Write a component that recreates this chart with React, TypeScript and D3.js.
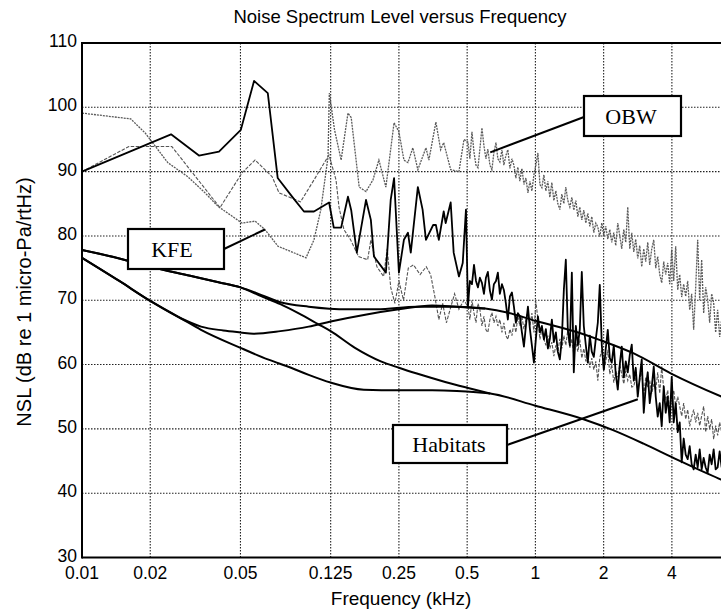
import React from "react";
import * as d3 from "d3";

const xTicks = [0.01, 0.02, 0.05, 0.125, 0.25, 0.5, 1, 2, 4];
const xTickLabels = ["0.01", "0.02", "0.05", "0.125", "0.25", "0.5", "1", "2", "4"];
const yTicks = [30, 40, 50, 60, 70, 80, 90, 100, 110];

// thick black measured spectrum, low-frequency part [kHz, dB]
const blackLow: [number, number][] = [
  [0.01, 90], [0.0247, 95.8], [0.0328, 92.5], [0.0402, 93.1], [0.0502, 96.5], [0.0574, 104.1],
  [0.066, 102.2], [0.073, 89], [0.085, 86], [0.0953, 83.8], [0.1055, 83.8], [0.123, 85.2],
  [0.129, 81.3], [0.139, 81.3], [0.149, 86.1], [0.154, 84], [0.163, 77.4], [0.179, 85.6],
  [0.188, 82.5], [0.194, 76.8], [0.219, 74.3], [0.23, 85.6], [0.238, 89], [0.25, 74.3],
  [0.263, 79.4], [0.274, 80.5], [0.282, 77.4], [0.303, 87.6], [0.318, 84.1], [0.329, 79.4],
  [0.354, 81.7], [0.364, 81.7], [0.375, 79.4], [0.394, 83.8], [0.402, 82], [0.423, 85.2],
  [0.436, 77.4], [0.46, 73.7], [0.478, 75.8], [0.494, 84.1],
];

// OBW spectrum (light dotted), low-frequency part
const obwLow: [number, number][] = [
  [0.01, 99.1], [0.0164, 98.2], [0.019, 96], [0.0239, 91.4], [0.0293, 89.2], [0.0349, 86.7],
  [0.0398, 84.6], [0.0508, 82], [0.058, 82.3], [0.0641, 81], [0.0732, 78.4], [0.0973, 76.6],
  [0.1055, 79.4], [0.113, 84], [0.1217, 92.3], [0.1233, 102.2], [0.13, 96.5], [0.139, 91.8],
  [0.149, 99.1], [0.154, 98.4], [0.167, 87.6], [0.179, 86.9], [0.192, 88.7], [0.204, 91.8],
  [0.219, 87.6], [0.238, 97.6], [0.25, 96.2], [0.263, 91.8], [0.274, 91.4], [0.288, 93.7],
  [0.303, 90.3], [0.329, 93.7], [0.339, 91.8], [0.364, 97.7], [0.382, 93.4], [0.394, 94.5],
  [0.423, 90.3], [0.46, 90], [0.484, 95],
];

// dashed spectrum, low-frequency part
const dashLow: [number, number][] = [
  [0.01, 90], [0.0161, 93.9], [0.0249, 93.9], [0.0406, 84.4], [0.0508, 89.8], [0.058, 91.8],
  [0.069, 89.2], [0.074, 86.7], [0.092, 85.3], [0.1055, 88.7], [0.1229, 92.6], [0.132, 88.7],
  [0.136, 84.5], [0.143, 81], [0.153, 79.4], [0.166, 76.8], [0.182, 76.3], [0.188, 79.4],
  [0.2, 75.2], [0.214, 73.7], [0.222, 78], [0.23, 72], [0.24, 69.5], [0.25, 73], [0.262, 70],
  [0.275, 75], [0.29, 75.5], [0.31, 74], [0.33, 75.2], [0.345, 74], [0.36, 70.6], [0.375, 67],
  [0.39, 69.5], [0.405, 66.5], [0.42, 68.5], [0.44, 71], [0.46, 68.6], [0.484, 70],
];

// high-frequency bins (kHz) shared by the three spectra
const hfFreq = [
  0.504, 0.514, 0.525, 0.536, 0.547, 0.558, 0.569, 0.581, 0.593, 0.605,
  0.617, 0.63, 0.643, 0.656, 0.67, 0.683, 0.697, 0.712, 0.726, 0.741,
  0.756, 0.772, 0.788, 0.804, 0.82, 0.837, 0.854, 0.872, 0.89, 0.908,
  0.927, 0.946, 0.965, 0.985, 1.005, 1.026, 1.047, 1.068, 1.09, 1.112,
  1.135, 1.158, 1.182, 1.206, 1.231, 1.256, 1.282, 1.308, 1.335, 1.362,
  1.39, 1.419, 1.448, 1.477, 1.508, 1.539, 1.57, 1.602, 1.635, 1.669,
  1.703, 1.738, 1.773, 1.81, 1.847, 1.885, 1.923, 1.963, 2.003, 2.044,
  2.086, 2.129, 2.172, 2.217, 2.262, 2.309, 2.356, 2.404, 2.454, 2.504,
  2.555, 2.608, 2.661, 2.716, 2.771, 2.828, 2.886, 2.945, 3.006, 3.067,
  3.13, 3.194, 3.26, 3.327, 3.395, 3.464, 3.535, 3.608, 3.682, 3.757,
  3.834, 3.913, 3.993, 4.075, 4.158, 4.244, 4.331, 4.419, 4.51, 4.602,
  4.697, 4.793, 4.891, 4.991, 5.094, 5.198, 5.305, 5.413, 5.524, 5.638,
  5.753, 5.871, 5.991, 6.114, 6.239, 6.367, 6.498, 6.631,
];

const blackHF = [
  69.0, 73.0, 72.5, 75.5, 73.0, 72.0, 73.5, 72.7, 71.0, 73.5,
  74.4, 71.5, 70.1, 72.5, 73.0, 74.3, 71.0, 72.5, 71.6, 69.5,
  67.0, 70.6, 71.2, 69.0, 66.5, 68.0, 67.5, 65.0, 62.8, 66.0,
  69.0, 65.5, 63.0, 60.3, 64.0, 67.5, 65.0, 66.0, 63.9, 65.5,
  62.5, 64.0, 67.0, 63.5, 65.0, 62.0, 60.8, 64.0, 71.6, 76.3,
  65.4, 63.0, 74.3, 58.8, 66.0, 63.0, 65.5, 74.4,
  66.0, 63.0, 60.3, 64.5, 62.0, 61.2, 64.0, 66.5, 72.4, 63.0,
  59.2, 62.5, 65.4, 61.0, 60.3, 63.0, 58.5, 56.1, 60.0, 62.8,
  58.0, 60.5, 58.8, 61.5, 63.1, 57.5, 59.5, 55.0, 58.0, 60.8,
  52.5, 56.5, 58.8, 54.0, 56.5, 59.7, 55.0, 51.9, 54.0, 50.4,
  56.6, 52.5, 55.0, 51.0, 58.1, 51.0, 54.0, 49.5, 51.0, 44.8,
  48.5, 46.0, 45.3, 47.3, 44.5, 43.7, 46.0, 44.0, 46.8, 43.7,
  45.5, 44.0, 43.2, 46.0, 44.5, 46.8, 43.7, 44.0, 46.5, 44.0,
];

const obwHF = [
  94.6, 92.0, 96.2, 93.0, 91.0, 90.6, 93.5, 96.8, 94.0, 92.0,
  93.5, 91.0, 90.3, 93.0, 94.5, 92.0, 91.5, 93.4, 91.0, 92.5,
  93.4, 90.5, 92.0, 91.0, 89.0, 90.7, 88.5, 90.5, 88.0, 89.0,
  86.7, 88.5, 87.0, 89.5, 91.0, 92.9, 88.0, 87.5, 89.5, 87.0,
  88.5, 86.0, 88.3, 85.5, 87.0, 85.0, 84.1, 86.5, 85.0, 87.6,
  85.5, 84.5, 86.0, 84.0, 85.5, 83.0, 84.5, 82.5, 84.0, 82.0,
  83.5, 81.5, 83.0, 80.5, 82.0, 81.4, 79.9, 82.0, 80.0, 81.5,
  79.5, 81.0, 79.0, 80.5, 78.5, 82.0, 80.0, 78.0, 81.0, 79.0,
  84.5, 78.0, 80.5, 77.5, 79.5, 76.5, 78.5, 75.2, 78.0, 76.0,
  79.0, 75.5, 78.0, 79.4, 75.0, 76.8, 74.0, 72.7, 76.0, 74.0,
  75.8, 72.5, 77.9, 73.0, 78.4, 71.6, 74.0, 70.5, 72.5, 70.6,
  73.0, 68.5, 71.0, 65.4, 72.0, 79.4, 70.0, 76.3, 68.0, 72.0,
  70.1, 66.5, 71.0, 69.6, 65.0, 68.5, 64.3, 67.0,
];

const dashHF = [
  69.0, 67.0, 70.0, 68.0, 66.5, 69.5, 68.6, 66.0, 67.5, 65.4,
  65.0, 67.0, 68.1, 66.5, 67.5, 66.0, 67.0, 65.0, 66.5, 64.5,
  63.9, 65.5, 64.5, 66.5, 65.0, 67.5, 66.0, 67.5, 65.5, 67.0,
  68.5, 66.0, 68.0, 65.0, 69.8, 67.0, 63.9, 65.5, 64.0, 63.0,
  64.5, 62.5, 63.5, 61.3, 63.0, 62.0, 64.0, 62.5, 64.5, 63.0,
  65.4, 62.5, 64.0, 61.5, 63.5, 62.0, 63.9, 61.0, 62.5, 60.5,
  61.5, 59.5, 61.0, 59.2, 60.5, 57.5, 61.0, 62.3, 59.0, 60.5,
  62.3, 58.5, 60.0, 57.2, 59.0, 58.0, 60.0, 58.5, 57.0, 59.0,
  57.5, 58.5, 56.5, 56.6, 58.0, 56.0, 57.5, 59.2, 55.0, 58.0,
  56.5, 57.5, 55.5, 57.0, 56.0, 58.8, 55.5, 59.7, 56.1, 54.5,
  56.0, 53.0, 55.0, 56.0, 53.5, 55.0, 53.5, 52.0, 54.0, 51.5,
  53.0, 50.4, 51.9, 53.0, 51.0, 52.5, 50.5, 52.0, 53.5, 49.5,
  52.0, 50.0, 51.5, 48.4, 50.5, 49.0, 51.0, 49.5,
];

// smooth habitat curves
const habitatUpper: [number, number][] = [
  [0.01, 77.8], [0.0146, 76.5], [0.02, 75.2], [0.03, 73.8], [0.04, 72.8], [0.05, 72],
  [0.062, 70.8], [0.075, 69.7], [0.1, 69.0], [0.15, 68.6], [0.2, 68.6], [0.3, 69], [0.45, 69],
  [0.6, 68.7], [0.75, 68.1], [1, 66.8], [1.57, 64.9], [1.93, 63.8], [2.73, 61.7], [3.97, 58.6],
  [6.63, 55], [7.5, 54.2],
];
const habitatDip: [number, number][] = [
  [0.01, 76.6], [0.0146, 73], [0.02, 69.9], [0.0273, 67.2], [0.0335, 65.9], [0.042, 65.3],
  [0.05, 65], [0.057, 64.8], [0.075, 65.2], [0.1, 65.9], [0.125, 66.7], [0.18, 67.8],
  [0.25, 68.6], [0.35, 69.2], [0.45, 69], [0.6, 68.7],
];
const habitatPlateau: [number, number][] = [
  [0.01, 76.6], [0.0146, 73], [0.02, 69.9], [0.0273, 67.2], [0.0335, 65.4], [0.05, 62.6],
  [0.066, 60.8], [0.0836, 59.5], [0.1, 58.4], [0.125, 57.2], [0.175, 56.1], [0.25, 56],
  [0.35, 56], [0.45, 55.9], [0.55, 55.7], [0.632, 55.5], [1, 53.6], [1.63, 51.5], [2.2, 49.8],
  [3, 47.7], [4, 45.6], [5, 44], [6.6, 42.1], [7.5, 41.2],
];
const habitatSlope: [number, number][] = [
  [0.01, 77.8], [0.0146, 76.5], [0.02, 75.2], [0.03, 73.8], [0.04, 72.8], [0.05, 72],
  [0.062, 70.6], [0.075, 69.4], [0.09, 68], [0.11, 66.3], [0.125, 65.2], [0.16, 62.6],
  [0.208, 60.5], [0.25, 59.5], [0.3, 58.6], [0.4, 57.3], [0.5, 56.4], [0.632, 55.5],
];

// callout labels and the point (kHz, dB) each one points at
const callouts = [
  { label: "KFE", target: [0.0641, 81] as [number, number] },
  { label: "OBW", target: [0.632, 93] as [number, number] },
  { label: "Habitats", target: [2.83, 54.6] as [number, number] },
];

const W = 721;
const H = 612;
const LEFT = 82;
const TOP = 43;
const BOTTOM = 557.5;

export default function App() {
  const x = d3.scaleLog().domain([0.01, 10]).range([LEFT, LEFT + 3 * 226.7]);
  const y = d3.scaleLinear().domain([30, 110]).range([BOTTOM, TOP]);

  const line = d3
    .line<[number, number]>()
    .x((d) => x(d[0]))
    .y((d) => y(d[1]));
  const smooth = d3
    .line<[number, number]>()
    .x((d) => x(d[0]))
    .y((d) => y(d[1]))
    .curve(d3.curveMonotoneX);

  const zip = (vals: number[]) => hfFreq.map((f, i) => [f, vals[i]] as [number, number]);
  const blackSeries = [...blackLow, ...zip(blackHF)];
  const obwSeries = [...obwLow, ...zip(obwHF)];
  const dashSeries = [...dashLow, ...zip(dashHF)];

  const boxes = [
    { x0: 128, y0: 229, w: 96, h: 40, tx: 172, ty: 257, ax: 224, ay: 249 },
    { x0: 584, y0: 96, w: 97, h: 40, tx: 631, ty: 124, ax: 584, ay: 117 },
    { x0: 393, y0: 425, w: 114, h: 38, tx: 449, ty: 452, ax: 507, ay: 445 },
  ];

  const sans = "'Liberation Sans', Arial, Helvetica, sans-serif";
  const serif = "'Liberation Serif', 'Times New Roman', serif";

  return (
    <svg width={W} height={H} style={{ display: "block", position: "absolute", left: 0, top: 0, background: "#fff" }}>
      <rect x={0} y={0} width={W} height={H} fill="#fff" />
      {/* grid */}
      <g stroke="#222" strokeWidth={1.1} strokeDasharray="1.5,1.5">
        {xTicks.slice(1).map((t) => (
          <line key={"gx" + t} x1={x(t)} x2={x(t)} y1={TOP} y2={BOTTOM} />
        ))}
        {yTicks.slice(1, -1).map((t) => (
          <line key={"gy" + t} x1={LEFT} x2={W} y1={y(t)} y2={y(t)} />
        ))}
      </g>

      {/* spectra */}
      <path d={line(dashSeries) || ""} fill="none" stroke="#555" strokeWidth={1.1} strokeDasharray="3.5,1.5" />
      <path d={line(obwSeries) || ""} fill="none" stroke="#5a5a5a" strokeWidth={1.3} strokeDasharray="2,1" />
      <path d={line(blackSeries) || ""} fill="none" stroke="#000" strokeWidth={1.8} strokeLinejoin="round" />

      {/* smooth habitat curves */}
      {[habitatUpper, habitatDip, habitatPlateau, habitatSlope].map((c, i) => (
        <path key={"h" + i} d={smooth(c) || ""} fill="none" stroke="#000" strokeWidth={2} />
      ))}

      {/* callouts */}
      {callouts.map((c, i) => {
        const b = boxes[i];
        return (
          <g key={c.label}>
            <line x1={b.ax} y1={b.ay} x2={x(c.target[0])} y2={y(c.target[1])} stroke="#000" strokeWidth={2} />
            <rect x={b.x0} y={b.y0} width={b.w} height={b.h} fill="#fff" stroke="#000" strokeWidth={2.2} />
            <text x={b.tx} y={b.ty} textAnchor="middle" fontFamily={serif} fontSize={22} fill="#000">
              {c.label}
            </text>
          </g>
        );
      })}

      {/* frame */}
      <line x1={LEFT} x2={LEFT} y1={TOP - 1} y2={BOTTOM + 1} stroke="#000" strokeWidth={2} />
      <line x1={LEFT} x2={W} y1={TOP} y2={TOP} stroke="#000" strokeWidth={2} />
      <line x1={LEFT} x2={W} y1={BOTTOM} y2={BOTTOM} stroke="#000" strokeWidth={2} />

      {/* tick labels */}
      <g fontFamily={sans} fontSize={17.5} fill="#000">
        {yTicks.map((t) => (
          <text key={"ty" + t} x={77} y={y(t) - 2} textAnchor="end" dominantBaseline="central">
            {t}
          </text>
        ))}
        {xTicks.map((t, i) => (
          <text key={"tx" + t} x={x(t)} y={579} textAnchor="middle">
            {xTickLabels[i]}
          </text>
        ))}
      </g>

      <text x={400} y={23} textAnchor="middle" fontFamily={sans} fontSize={18.5} fill="#000">
        Noise Spectrum Level versus Frequency
      </text>
      <text x={401} y={605} textAnchor="middle" fontFamily={sans} fontSize={19} fill="#000">
        Frequency (kHz)
      </text>
      <text
        transform={`translate(31,302) rotate(-90)`}
        textAnchor="middle"
        fontFamily={sans}
        fontSize={20}
        fill="#000"
      >
        NSL (dB re 1 micro-Pa/rtHz)
      </text>
    </svg>
  );
}
